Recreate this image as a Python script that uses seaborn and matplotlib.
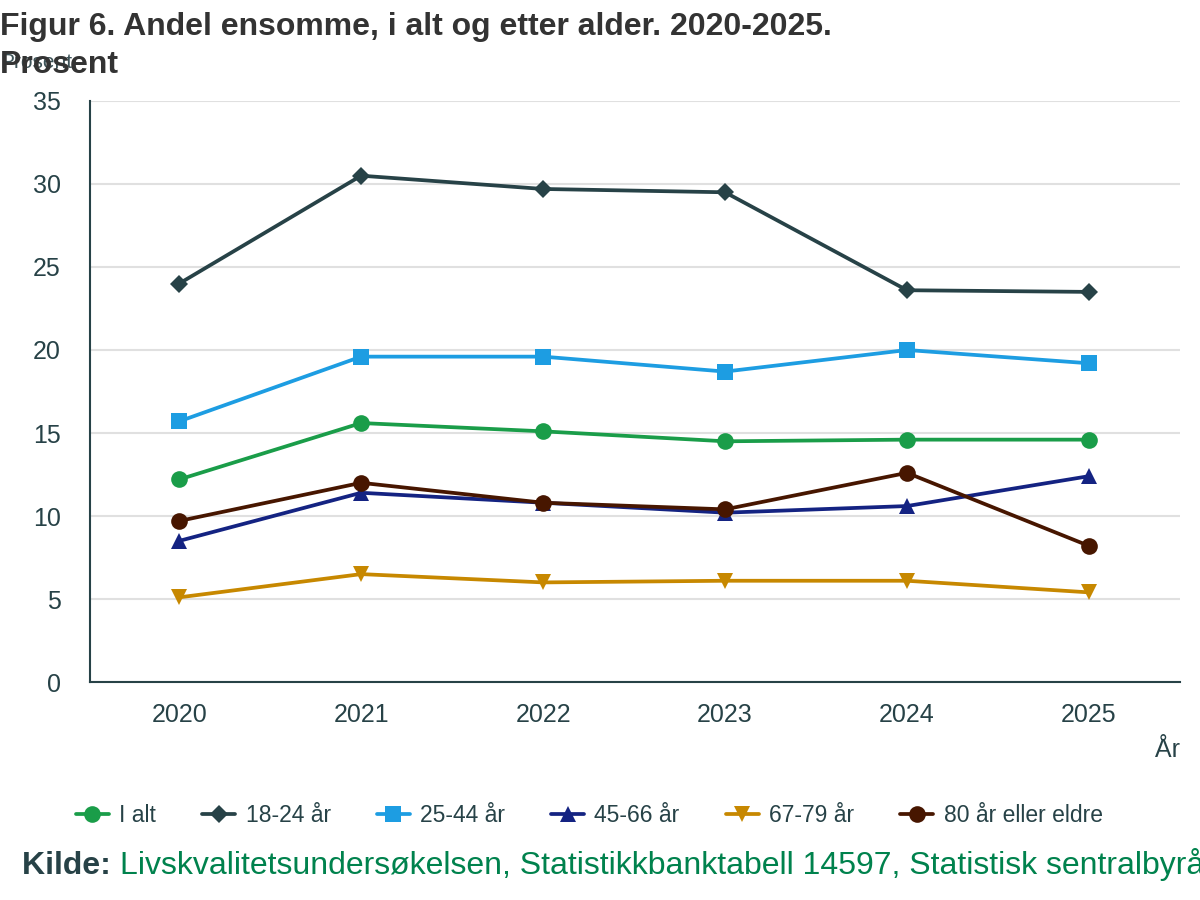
import matplotlib
matplotlib.use("Agg")
import matplotlib.pyplot as plt
import seaborn as sns
import pandas as pd

years = [2020, 2021, 2022, 2023, 2024, 2025]
series_names = ["I alt", "18-24 år", "25-44 år", "45-66 år", "67-79 år", "80 år eller eldre"]
i_alt = [12.2, 15.6, 15.1, 14.5, 14.6, 14.6]
aar_18_24 = [24.0, 30.5, 29.7, 29.5, 23.6, 23.5]
aar_25_44 = [15.7, 19.6, 19.6, 18.7, 20.0, 19.2]
aar_45_66 = [8.5, 11.4, 10.8, 10.2, 10.6, 12.4]
aar_67_79 = [5.1, 6.5, 6.0, 6.1, 6.1, 5.4]
aar_80 = [9.7, 12.0, 10.8, 10.4, 12.6, 8.2]
values = [i_alt, aar_18_24, aar_25_44, aar_45_66, aar_67_79, aar_80]

colors = ["#1a9d49", "#274247", "#1d9de2", "#142382", "#c78800", "#471600"]
markers = ["o", "D", "s", "^", "v", "o"]
msizes = [12, 9, 11, 12, 12, 12]

rows = []
for name, vals in zip(series_names, values):
    for y, v in zip(years, vals):
        rows.append({"År": y, "Prosent": v, "Serie": name})
df = pd.DataFrame(rows)

sns.set_theme(style="white")
plt.rcParams['font.family'] = ['Liberation Sans', 'DejaVu Sans']
text_col = "#274247"

fig = plt.figure(figsize=(12, 9), dpi=100)
ax = fig.add_axes([0.075, 0.2422, 0.9083, 0.6456])

for name, c, m, ms in zip(series_names, colors, markers, msizes):
    sub = df[df["Serie"] == name]
    sns.lineplot(data=sub, x="År", y="Prosent", ax=ax, color=c, marker=m,
                 markersize=ms, markeredgewidth=0, linewidth=2.7, label=name)

ax.set_xlim(2019.51, 2025.5)
ax.set_ylim(0, 35)
ax.set_yticks(range(0, 36, 5))
ax.set_xticks(years)
ax.set_xticklabels([str(y) for y in years])
ax.yaxis.grid(True, color="#e0e0e0", linewidth=1.5)
ax.xaxis.grid(False)
ax.set_axisbelow(True)
for s in ["top", "right"]:
    ax.spines[s].set_visible(False)
for s in ["left", "bottom"]:
    ax.spines[s].set_color(text_col)
    ax.spines[s].set_linewidth(1.5)
ax.tick_params(axis="both", colors=text_col, labelsize=18, length=12, width=1.5, direction="out")
ax.tick_params(axis="y", pad=9)
ax.tick_params(axis="x", pad=3)
ax.set_xlabel("")
ax.set_ylabel("")

fig.text(1180 / 1200, 1 - 750 / 900, "År", ha="right", va="center", fontsize=18, color=text_col)
fig.text(0.0, 1 - 68 / 900, "Prosent", ha="left", va="baseline", fontsize=15, color="#3d5358")

fig.text(0.0, 1 - 35 / 900, "Figur 6. Andel ensomme, i alt og etter alder. 2020-2025.",
         ha="left", va="baseline", fontsize=23, fontweight="bold", color="#333333")
fig.text(0.0, 1 - 73 / 900, "Prosent", ha="left", va="baseline", fontsize=23,
         fontweight="bold", color="#333333")

handles, labels = ax.get_legend_handles_labels()
ax.get_legend().remove()
fig.legend(handles, labels, loc="center", bbox_to_anchor=(0.491, 1 - 816 / 900), ncol=6,
           frameon=False, fontsize=16.5, handlelength=1.45, columnspacing=2.0,
           handletextpad=0.45, labelcolor=text_col)

t1 = fig.text(22 / 1200, 1 - 874 / 900, "Kilde: ", ha="left", va="baseline", fontsize=23,
              fontweight="bold", color=text_col)
fig.canvas.draw()
bb = t1.get_window_extent()
fig.text(bb.x1 / 1200, 1 - 874 / 900,
         "Livskvalitetsundersøkelsen, Statistikkbanktabell 14597, Statistisk sentralbyrå",
         ha="left", va="baseline", fontsize=23, color="#00824d")

fig.savefig("out.png", dpi=100)
